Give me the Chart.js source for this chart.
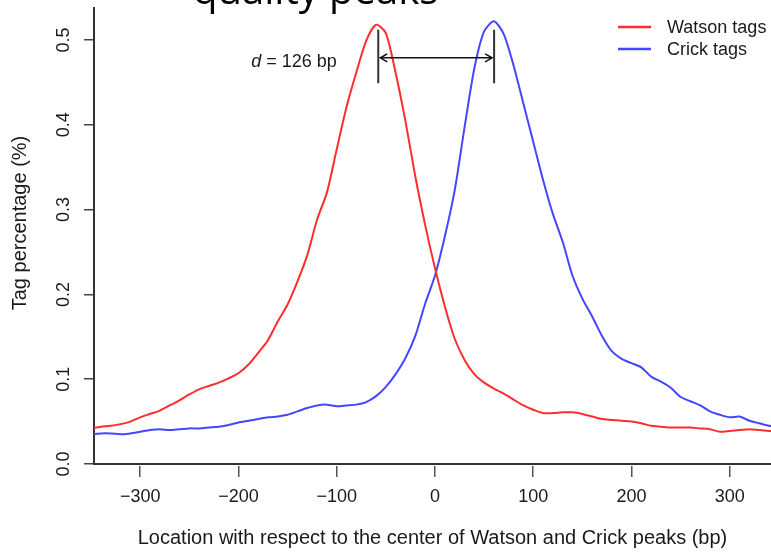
<!DOCTYPE html>
<html>
<head>
<meta charset="utf-8">
<script src="https://cdn.jsdelivr.net/npm/chart.js@4/dist/chart.umd.min.js"></script>
<style>
  html, body { margin: 0; padding: 0; background: #fff; }
  #wrap { width: 771px; height: 553px; }
</style>
</head>
<body>
<div id="wrap"><canvas id="c" width="771" height="553"></canvas></div>
<script>
// 位置 (bp) と各鎖のタグ割合
const positions = [
  -350, -340, -330, -320, -310, -300, -290, -280, -270, -260,
  -250, -240, -230, -220, -210, -200, -190, -180, -170, -160,
  -150, -140, -130, -120, -110, -100, -90, -80, -70, -60,
  -50, -40, -30, -20, -10, 0, 10, 20, 30, 40,
  50, 60, 70, 80, 90, 100, 110, 120, 130, 140,
  150, 160, 170, 180, 190, 200, 210, 220, 230, 240,
  250, 260, 270, 280, 290, 300, 310, 320, 330, 340, 350
];
const watsonTags = [
  0.042, 0.044, 0.045, 0.047, 0.050, 0.055, 0.059, 0.063, 0.069, 0.075,
  0.082, 0.088, 0.092, 0.096, 0.101, 0.107, 0.117, 0.131, 0.146, 0.168,
  0.188, 0.215, 0.246, 0.288, 0.320, 0.371, 0.421, 0.462, 0.499, 0.518,
  0.508, 0.461, 0.404, 0.339, 0.282, 0.231, 0.186, 0.148, 0.123, 0.106,
  0.096, 0.089, 0.083, 0.076, 0.069, 0.064, 0.060, 0.060, 0.061, 0.061,
  0.059, 0.056, 0.053, 0.052, 0.051, 0.050, 0.048, 0.045, 0.044, 0.043,
  0.043, 0.043, 0.042, 0.041, 0.038, 0.039, 0.040, 0.041, 0.040, 0.039, 0.038
];
const crickTags = [
  0.035, 0.036, 0.036, 0.035, 0.036, 0.038, 0.040, 0.041, 0.040, 0.041,
  0.042, 0.042, 0.043, 0.044, 0.046, 0.049, 0.051, 0.053, 0.055, 0.056,
  0.058, 0.062, 0.066, 0.069, 0.070, 0.068, 0.069, 0.070, 0.073, 0.080,
  0.091, 0.106, 0.125, 0.151, 0.189, 0.222, 0.268, 0.322, 0.396, 0.466,
  0.510, 0.522, 0.507, 0.470, 0.425, 0.380, 0.335, 0.295, 0.262, 0.222,
  0.195, 0.174, 0.151, 0.133, 0.124, 0.119, 0.114, 0.103, 0.097, 0.090,
  0.079, 0.074, 0.069, 0.062, 0.058, 0.055, 0.056, 0.051, 0.048, 0.045, 0.044
];
const xTicks = [-300, -200, -100, 0, 100, 200, 300];
const yTicks = [0, 0.1, 0.2, 0.3, 0.4, 0.5];

// ピーク間距離の注記 (データ単位)
const peakMarks = [-57.7, 60.2];
const markSpan = [0.449, 0.512];
const arrowLevel = 0.479;
const distanceLabelAt = [-187, 0.474];

const FONT = '"Liberation Sans", Arial, Helvetica, sans-serif';
const INK = '#1a1a1a';

Chart.defaults.font.family = FONT;
Chart.defaults.font.size = 18;
Chart.defaults.color = INK;

function toPoints(values) {
  return positions.map((p, i) => ({ x: p, y: values[i] }));
}

// d = 126 bp の矢印と縦線
const peakDistance = {
  id: 'peakDistance',
  afterDatasetsDraw(chart) {
    const { ctx, scales: { x, y } } = chart;
    const xl = x.getPixelForValue(peakMarks[0]);
    const xr = x.getPixelForValue(peakMarks[1]);
    const yt = y.getPixelForValue(markSpan[1]);
    const yb = y.getPixelForValue(markSpan[0]);
    const ya = y.getPixelForValue(arrowLevel);
    ctx.save();
    ctx.strokeStyle = '#333';
    ctx.lineWidth = 2;
    ctx.beginPath();
    ctx.moveTo(xl, yt); ctx.lineTo(xl, yb);
    ctx.moveTo(xr, yt); ctx.lineTo(xr, yb);
    ctx.stroke();

    ctx.strokeStyle = '#111';
    ctx.lineWidth = 1.5;
    ctx.beginPath();
    ctx.moveTo(xl + 2, ya); ctx.lineTo(xr - 2, ya);
    ctx.moveTo(xl + 9, ya - 4); ctx.lineTo(xl + 2, ya); ctx.lineTo(xl + 9, ya + 4);
    ctx.moveTo(xr - 9, ya - 4); ctx.lineTo(xr - 2, ya); ctx.lineTo(xr - 9, ya + 4);
    ctx.stroke();

    const tx = x.getPixelForValue(distanceLabelAt[0]);
    const ty = y.getPixelForValue(distanceLabelAt[1]);
    ctx.fillStyle = INK;
    ctx.textBaseline = 'middle';
    ctx.textAlign = 'left';
    ctx.font = 'italic 18px ' + FONT;
    ctx.fillText('d', tx, ty);
    const w = ctx.measureText('d').width;
    ctx.font = '18px ' + FONT;
    ctx.fillText(' = 126 bp', tx + w, ty);
    ctx.restore();
  }
};

// 凡例・縦軸タイトル・上端の見出し断片
const decorations = {
  id: 'decorations',
  afterDraw(chart) {
    const { ctx } = chart;
    ctx.save();
    chart.data.datasets.forEach((ds, i) => {
      const ly = 27 + i * 22;
      ctx.strokeStyle = ds.borderColor;
      ctx.lineWidth = 2.5;
      ctx.beginPath();
      ctx.moveTo(618, ly); ctx.lineTo(651, ly);
      ctx.stroke();
      ctx.fillStyle = INK;
      ctx.font = '18px ' + FONT;
      ctx.textAlign = 'left';
      ctx.textBaseline = 'middle';
      ctx.fillText(ds.label, 667, ly + 1);
    });

    ctx.translate(20, 223);
    ctx.rotate(-Math.PI / 2);
    ctx.font = '20px ' + FONT;
    ctx.textAlign = 'center';
    ctx.textBaseline = 'middle';
    ctx.fillText('Tag percentage (%)', 0, 0);
    ctx.setTransform(1, 0, 0, 1, 0, 0);

    ctx.fillStyle = '#000';
    ctx.font = '40px "Open Sans", sans-serif';
    ctx.textAlign = 'left';
    ctx.textBaseline = 'alphabetic';
    ctx.fillText('quality peaks', 193, 4);
    ctx.restore();
  }
};

new Chart(document.getElementById('c'), {
  type: 'line',
  data: {
    datasets: [
      {
        label: 'Watson tags',
        data: toPoints(watsonTags),
        borderColor: 'rgb(255, 45, 45)',
        borderWidth: 2,
        pointRadius: 0,
        tension: 0.25,
        xAxisID: 'x',
        yAxisID: 'y'
      },
      {
        label: 'Crick tags',
        data: toPoints(crickTags),
        borderColor: 'rgb(70, 70, 255)',
        borderWidth: 2,
        pointRadius: 0,
        tension: 0.25,
        xAxisID: 'x',
        yAxisID: 'y'
      }
    ]
  },
  options: {
    responsive: false,
    animation: false,
    layout: { padding: { top: 8, left: 0, right: 0, bottom: 0 } },
    plugins: {
      legend: { display: false },
      tooltip: { enabled: false }
    },
    scales: {
      xgap: {
        type: 'linear',
        axis: 'x',
        position: 'bottom',
        weight: 0,
        afterFit: s => { s.height = 2; s.paddingLeft = 0; s.paddingRight = 0; },
        ticks: { display: false },
        grid: { display: false },
        border: { display: true, color: '#333', width: 2 }
      },
      x: {
        type: 'linear',
        position: 'bottom',
        weight: 1,
        min: -347,
        max: 342,
        afterBuildTicks: s => { s.ticks = xTicks.map(v => ({ value: v })); },
        afterFit: s => { s.height = 87; s.paddingLeft = 0; s.paddingRight = 0; },
        border: { display: false },
        grid: { drawOnChartArea: false, drawTicks: true, tickLength: 11, color: '#555', lineWidth: 1.5 },
        ticks: {
          padding: 9,
          maxRotation: 0,
          color: INK,
          callback: v => (v < 0 ? '\u2212' + Math.abs(v) : String(v))
        },
        title: {
          display: true,
          text: 'Location with respect to the center of Watson and Crick peaks (bp)',
          color: INK,
          font: { size: 20 },
          padding: { top: 0, bottom: 3 }
        }
      },
      y: {
        type: 'linear',
        position: 'left',
        min: 0,
        max: 0.5377,
        afterBuildTicks: s => { s.ticks = yTicks.map(v => ({ value: v })); },
        afterFit: s => { s.width = 94; s.paddingTop = 0; s.paddingBottom = 0; },
        border: { display: true, color: '#333', width: 2 },
        grid: { drawOnChartArea: false, tickLength: 10, color: '#444', lineWidth: 1.5 },
        ticks: {
          minRotation: 90,
          maxRotation: 90,
          crossAlign: 'center',
          padding: 7,
          color: INK,
          callback: v => v.toFixed(1)
        }
      }
    }
  },
  plugins: [peakDistance, decorations]
});
</script>
</body>
</html>
